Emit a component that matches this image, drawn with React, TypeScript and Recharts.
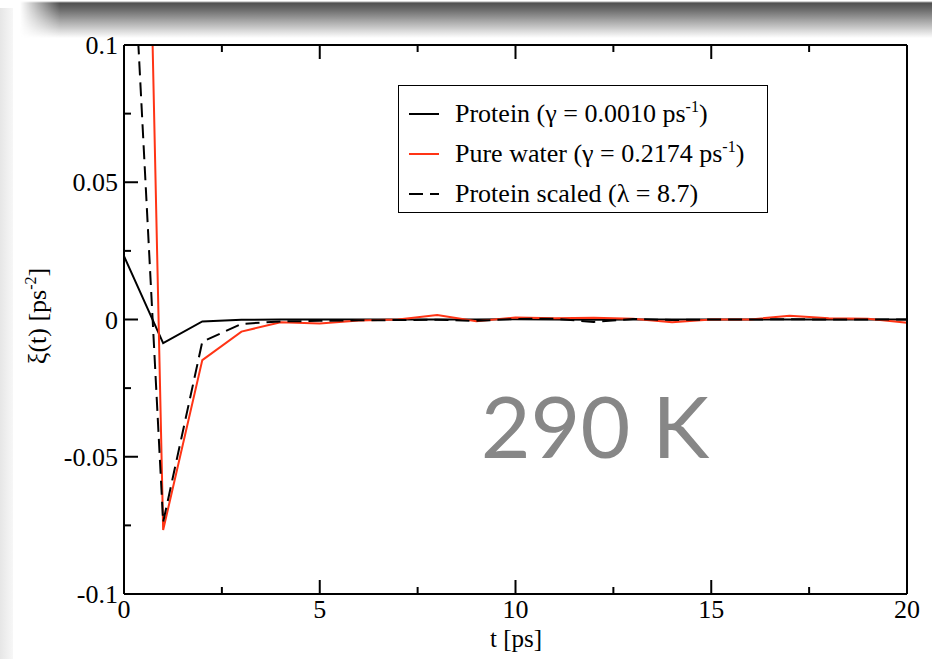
import { Legend, Line, LineChart, XAxis, YAxis } from 'recharts';

// time axis, ps
const timePs = [0, 1, 2, 3, 4, 5, 6, 7, 8, 9, 10, 11, 12, 13, 14, 15, 16, 17, 18, 19, 20];

// noise correlation xi(t), ps^-2
const proteinXi = [0.0231, -0.0086, -0.0007, -0.0001, 0, 0, 0, 0, 0, 0, 0.0001, 0, -0.0001, 0, 0, 0, 0, 0, 0, 0, 0];
const waterXi = [0.58, -0.0767, -0.0148, -0.0044, -0.001, -0.0015, -0.0004, 0, 0.0016, -0.0006, 0.0007, 0.0005, 0.0006, 0.0003, -0.001, 0, 0, 0.0014, 0.0005, 0.0003, -0.0012];
const scaledXi = [0.201, -0.0738, -0.0081, -0.0016, -0.0007, -0.0005, -0.0003, -0.0002, -0.0001, -0.0005, 0.0002, 0.0003, -0.0009, 0.0002, -0.0002, 0, 0, 0.0001, 0, 0, 0];

const xMajor = [0, 5, 10, 15, 20];
const xMajorLabels = ['0', '5', '10', '15', '20'];
const xMinor = [2.5, 7.5, 12.5, 17.5];
const yMajor = [-0.1, -0.05, 0, 0.05, 0.1];
const yMajorLabels = ['-0.1', '-0.05', '0', '0.05', '0.1'];
const yMinor = [-0.075, -0.025, 0.025, 0.075];

const series = [
  { key: 'protein', label: 'Protein (γ = 0.0010 ps', sup: '-1', color: '#000000', dash: undefined },
  { key: 'water', label: 'Pure water (γ = 0.2174 ps', sup: '-1', color: '#ff3415', dash: undefined },
  { key: 'scaled', label: 'Protein scaled (λ = 8.7', sup: '', color: '#000000', dash: '14 7' },
];

const data = timePs.map((t, i) => ({
  t,
  protein: proteinXi[i],
  water: waterXi[i],
  scaled: scaledXi[i],
}));

const SERIF = '"Liberation Serif", "Times New Roman", serif';
const xTicks = [...xMajor, ...xMinor].sort((a, b) => a - b);
const yTicks = [...yMajor, ...yMinor].sort((a, b) => a - b);

function BottomTick(props: any) {
  const { x, y, payload } = props;
  const idx = xMajor.indexOf(payload.value);
  const len = idx >= 0 ? 14 : 7;
  return (
    <g>
      <line x1={x} y1={y} x2={x} y2={y - len} stroke="#000" strokeWidth={2} />
      {idx >= 0 && (
        <text x={x} y={y + 24} textAnchor="middle" fontFamily={SERIF} fontSize={26} fill="#000">
          {xMajorLabels[idx]}
        </text>
      )}
    </g>
  );
}

function TopTick(props: any) {
  const { x, y, payload } = props;
  const len = xMajor.indexOf(payload.value) >= 0 ? 14 : 7;
  return <line x1={x} y1={y} x2={x} y2={y + len} stroke="#000" strokeWidth={2} />;
}

function LeftTick(props: any) {
  const { x, y, payload } = props;
  const idx = yMajor.indexOf(payload.value);
  const len = idx >= 0 ? 14 : 7;
  return (
    <g>
      <line x1={x} y1={y} x2={x + len} y2={y} stroke="#000" strokeWidth={2} />
      {idx >= 0 && (
        <text x={x - 6} y={y + 9} textAnchor="end" fontFamily={SERIF} fontSize={26} fill="#000">
          {yMajorLabels[idx]}
        </text>
      )}
    </g>
  );
}

function RightTick(props: any) {
  const { x, y, payload } = props;
  const len = yMajor.indexOf(payload.value) >= 0 ? 14 : 7;
  return <line x1={x} y1={y} x2={x - len} y2={y} stroke="#000" strokeWidth={2} />;
}

function LegendBox() {
  return (
    <div
      style={{
        boxSizing: 'border-box',
        width: 370,
        height: 128,
        border: '1.5px solid #000',
        background: '#fff',
        paddingTop: 8,
        fontFamily: SERIF,
        fontSize: 26,
        color: '#000',
      }}
    >
      {series.map(s => (
        <div key={s.key} style={{ display: 'flex', alignItems: 'center', height: 40 }}>
          <svg width={56} height={10} style={{ flex: 'none' }}>
            <line x1={10} y1={5} x2={40} y2={5} stroke={s.color} strokeWidth={2} strokeDasharray={s.dash} />
          </svg>
          <span style={{ whiteSpace: 'nowrap' }}>
            {s.label}
            {s.sup && <sup style={{ fontSize: 16, lineHeight: 0 }}>{s.sup}</sup>})
          </span>
        </div>
      ))}
    </div>
  );
}

export default function App() {
  return (
    <div style={{ position: 'absolute', left: 0, top: 0, width: 932, height: 659, background: '#fff', overflow: 'hidden' }}>
      {/* slide frame shading */}
      <div style={{ position: 'absolute', left: 0, top: 8, width: 13, height: 651, background: 'linear-gradient(to right, #e6e6e6, #f7f7f7)' }} />
      <div
        style={{
          position: 'absolute',
          left: 20,
          top: 0,
          width: 912,
          height: 40,
          background: 'linear-gradient(to bottom, #fff 0px, #fff 1px, #4f4f4f 3px, #6d6d6d 10px, rgba(255,255,255,0) 38px)',
          WebkitMaskImage: 'linear-gradient(to right, transparent 0px, #000 40px)',
          maskImage: 'linear-gradient(to right, transparent 0px, #000 40px)',
        }}
      />
      <LineChart width={932} height={659} data={data} margin={{ top: 44, right: 24, bottom: 25, left: 64 }}>
        <XAxis
          dataKey="t"
          type="number"
          domain={[0, 20]}
          ticks={xTicks}
          interval={0}
          height={40}
          tickSize={0}
          tickMargin={0}
          tickLine={false}
          tick={<BottomTick />}
          axisLine={{ stroke: '#000', strokeWidth: 2 }}
          label={{
            content: () => (
              <text x={516} y={647} textAnchor="middle" fontFamily={SERIF} fontSize={25} fill="#000">
                t [ps]
              </text>
            ),
          }}
        />
        <XAxis
          xAxisId="top"
          orientation="top"
          type="number"
          domain={[0, 20]}
          ticks={xTicks}
          interval={0}
          height={1}
          tickSize={0}
          tickMargin={0}
          tickLine={false}
          tick={<TopTick />}
          axisLine={{ stroke: '#000', strokeWidth: 2 }}
        />
        <YAxis
          type="number"
          domain={[-0.1, 0.1]}
          allowDataOverflow
          ticks={yTicks}
          interval={0}
          width={60}
          tickSize={0}
          tickMargin={0}
          tickLine={false}
          tick={<LeftTick />}
          axisLine={{ stroke: '#000', strokeWidth: 2 }}
          label={{
            content: () => (
              <text transform="translate(46, 316) rotate(-90)" textAnchor="middle" fontFamily={SERIF} fontSize={26} fill="#000">
                ξ(t) [ps
                <tspan dy={-10} fontSize={16}>-2</tspan>
                <tspan dy={10}>]</tspan>
              </text>
            ),
          }}
        />
        <YAxis
          yAxisId="right"
          orientation="right"
          type="number"
          domain={[-0.1, 0.1]}
          ticks={yTicks}
          interval={0}
          width={1}
          tickSize={0}
          tickMargin={0}
          tickLine={false}
          tick={<RightTick />}
          axisLine={{ stroke: '#000', strokeWidth: 2 }}
        />
        {series.map(s => (
          <Line
            key={s.key}
            dataKey={s.key}
            type="linear"
            stroke={s.color}
            strokeWidth={2}
            strokeDasharray={s.dash}
            dot={false}
            activeDot={false}
            isAnimationActive={false}
          />
        ))}
        <Legend
          layout="vertical"
          align="center"
          verticalAlign="middle"
          content={() => <LegendBox />}
          wrapperStyle={{ left: 398, top: 85, width: 370, height: 128 }}
        />
      </LineChart>
      <svg width={932} height={659} style={{ position: 'absolute', left: 0, top: 0, pointerEvents: 'none' }}>
        <text x={595} y={458} textAnchor="middle" fontFamily="Lato, 'DejaVu Sans', sans-serif" fontSize={86} fill="#878787">
          290 K
        </text>
      </svg>
    </div>
  );
}
